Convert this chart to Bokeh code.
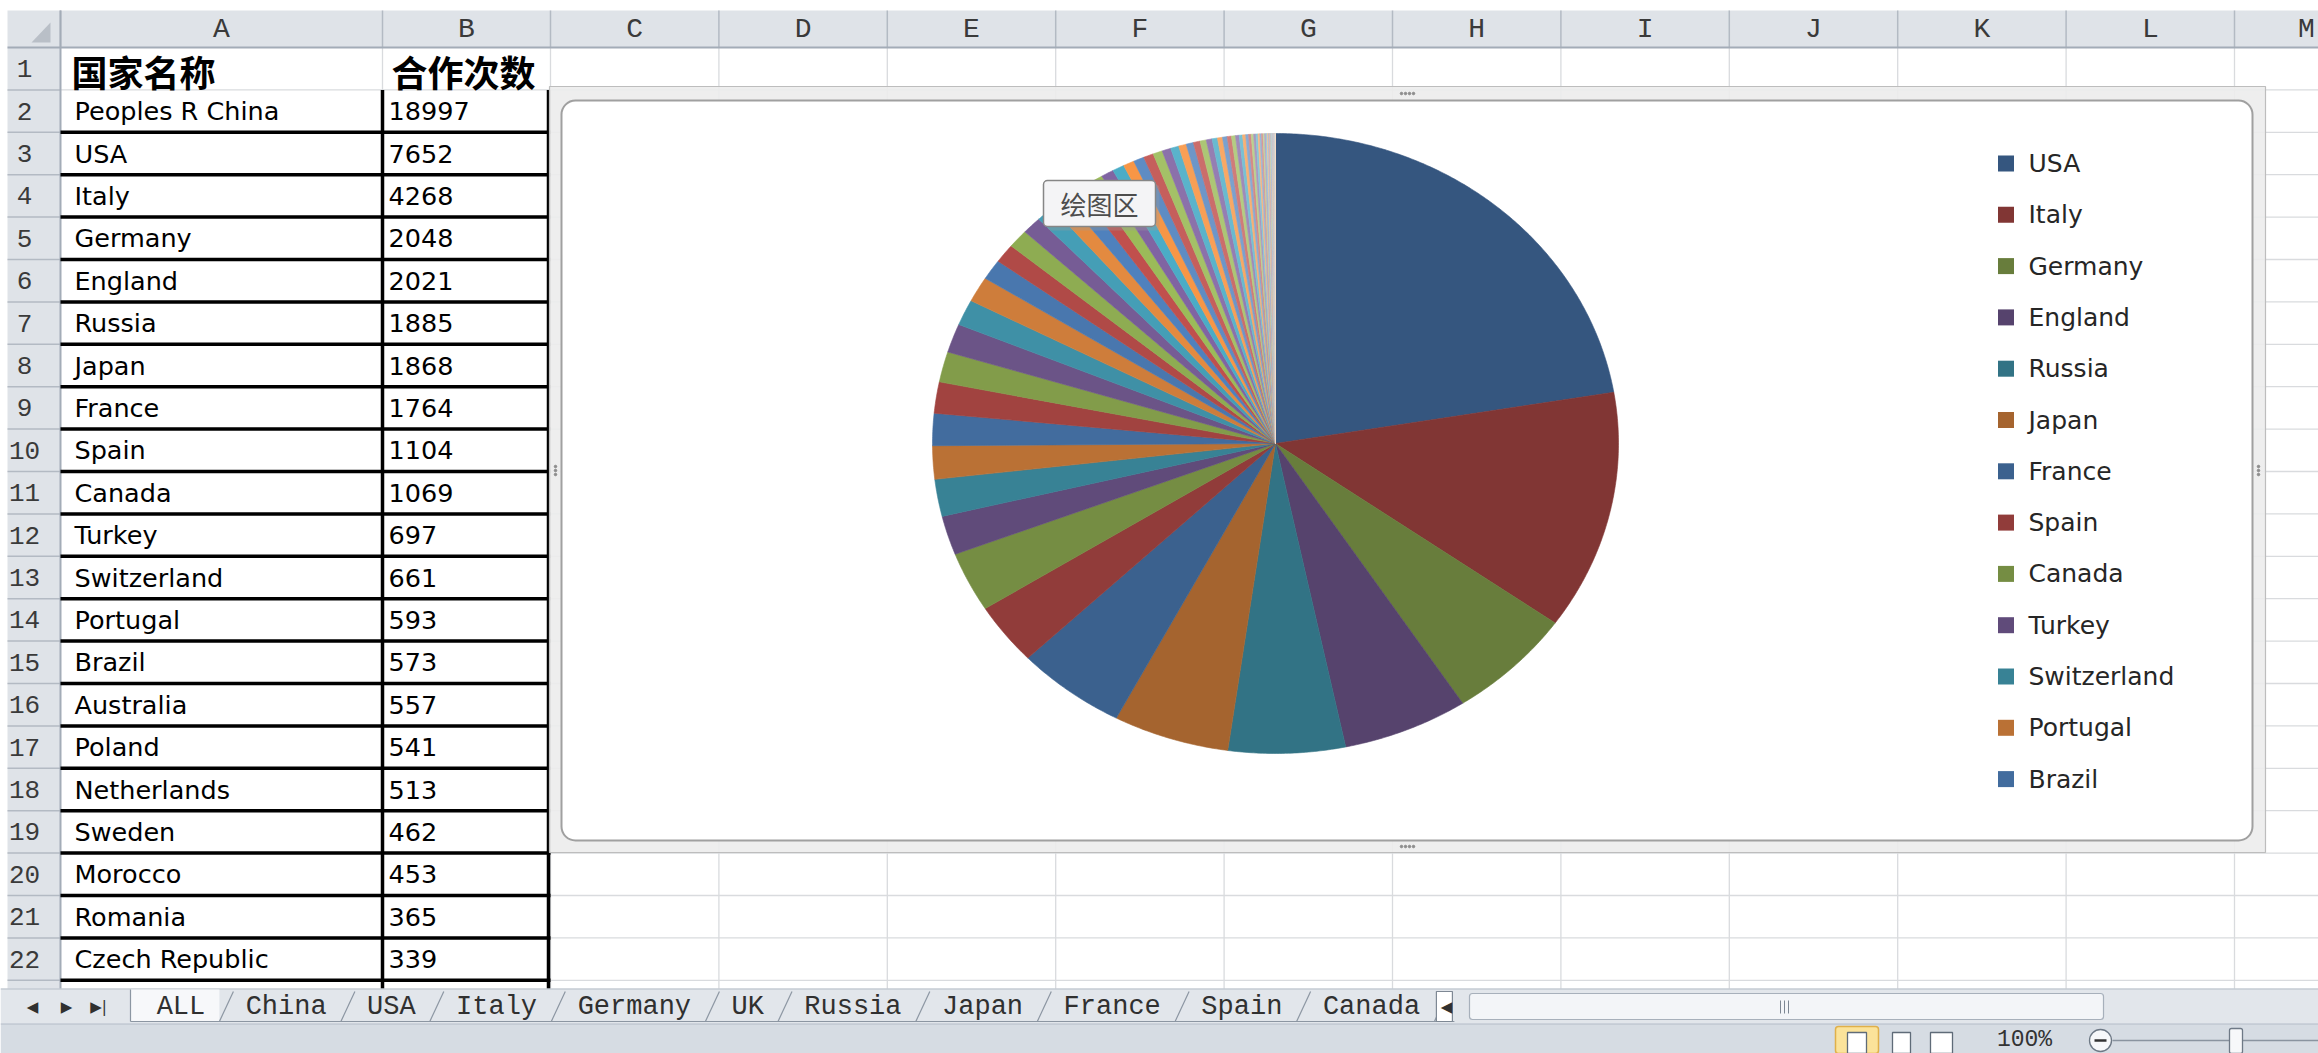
import math
from bokeh.plotting import figure
from bokeh.models import Range1d
from bokeh.core.properties import value
from bokeh.embed import file_html
from bokeh.resources import INLINE

# ---------------- data ----------------
header_labels = ["国家名称", "合作次数"]
table_countries = ["Peoples R China", "USA", "Italy", "Germany", "England", "Russia", "Japan",
                   "France", "Spain", "Canada", "Turkey", "Switzerland", "Portugal", "Brazil",
                   "Australia", "Poland", "Netherlands", "Sweden", "Morocco", "Romania",
                   "Czech Republic"]
table_counts = [18997, 7652, 4268, 2048, 2021, 1885, 1868, 1764, 1104, 1069, 697, 661, 593,
                573, 557, 541, 513, 462, 453, 365, 339]
# countries below row 22 (not visible in the sheet)
tail_countries = ["India", "South Korea", "Iran", "Belgium", "Greece", "Austria", "Denmark",
                  "Saudi Arabia", "Singapore", "Finland", "Norway", "Taiwan", "Egypt", "Mexico",
                  "Ireland", "Israel", "Hungary", "Argentina", "Scotland", "Pakistan",
                  "South Africa", "Chile", "Malaysia", "Thailand", "Tunisia", "Slovenia",
                  "Serbia", "New Zealand", "Croatia", "Slovakia", "Algeria", "Vietnam",
                  "Colombia", "Ukraine", "Bulgaria", "Lithuania", "Wales", "Estonia", "Cyprus",
                  "Nigeria", "Bangladesh", "Qatar", "Jordan", "Lebanon", "Kenya", "Iraq",
                  "Latvia", "Luxembourg", "Cuba", "Venezuela", "U Arab Emirates", "Kazakhstan",
                  "Peru", "Ethiopia", "Belarus", "Uruguay", "Sri Lanka", "Oman"]
tail_counts = [330, 312, 290, 268, 250, 232, 218, 204, 190, 178,
               172, 162, 152, 142, 133, 124, 117, 109, 101, 94,
               87, 81, 75, 69, 64, 59, 54, 50, 46, 42,
               39, 36, 33, 30, 27, 25, 23, 21, 19, 17,
               15, 13, 12, 11, 10, 9, 8, 7, 6, 5,
               5, 4, 3, 3, 2, 2, 1, 1]
column_letters = ["A", "B", "C", "D", "E", "F", "G", "H", "I", "J", "K", "L", "M"]
sheet_tabs = ["ALL", "China", "USA", "Italy", "Germany", "UK", "Russia", "Japan", "France",
              "Spain", "Canada"]
legend_shown = 13
tooltip_label = "绘图区"
zoom_label = "100%"

pie_countries = table_countries[1:] + tail_countries
pie_counts = table_counts[1:] + tail_counts

# ---------------- figure (page pixel space) ----------------
W, H = 2318, 1053
p = figure(width=W, height=H, x_range=Range1d(0, W), y_range=Range1d(H, 0),
           output_backend="svg", toolbar_location=None, min_border=0,
           x_axis_location=None, y_axis_location=None)
p.grid.visible = False
p.outline_line_color = None
p.background_fill_color = "white"
p.border_fill_color = "white"

MONO = value("Liberation Mono")
SANS = value("DejaVu Sans")
CJK = value("Noto Sans CJK SC")

ROW_H = 42.4
HDR_TOP, HDR_BOT = 10, 47
RH_LEFT, RH_RIGHT = 7, 60
RIGHT_EDGE = W
GRID_BOTTOM = 990
col_edges = [60, 382, 550] + [550 + 168.4 * k for k in range(1, 12)]
n_rows = 22
row_edges = [HDR_BOT + ROW_H * k for k in range(n_rows + 1)]

# cell grid lines
p.multi_line(xs=[[x, x] for x in col_edges[1:]], ys=[[HDR_BOT, GRID_BOTTOM]] * (len(col_edges) - 1),
             line_color="#D9DBDE", line_width=1.3)
p.multi_line(xs=[[RH_RIGHT, RIGHT_EDGE]] * n_rows, ys=[[y, y] for y in row_edges[1:]],
             line_color="#D9DBDE", line_width=1.3)

# headers
p.quad(left=[RH_LEFT], right=[RIGHT_EDGE], top=[HDR_TOP], bottom=[HDR_BOT],
       fill_color="#DFE3E8", line_color=None)
p.quad(left=[RH_LEFT], right=[RH_RIGHT], top=[HDR_BOT], bottom=[GRID_BOTTOM],
       fill_color="#DFE3E8", line_color=None)
p.multi_line(xs=[[x, x] for x in col_edges], ys=[[HDR_TOP, HDR_BOT]] * len(col_edges),
             line_color="#B3BAC3", line_width=1.5)
p.multi_line(xs=[[RH_LEFT, RH_RIGHT]] * n_rows, ys=[[y, y] for y in row_edges[1:]],
             line_color="#B3BAC3", line_width=1.5)
p.line(x=[RH_LEFT, RIGHT_EDGE], y=[HDR_BOT, HDR_BOT], line_color="#A3ACB7", line_width=2)
p.line(x=[RH_RIGHT, RH_RIGHT], y=[HDR_TOP, GRID_BOTTOM], line_color="#A3ACB7", line_width=2)
p.patch(x=[31, 50, 50], y=[42, 42, 22], fill_color="#B9BFC7", line_color=None)

col_centers = [(col_edges[i] + col_edges[i + 1]) / 2 for i in range(len(column_letters))]
col_centers[-1] = min(col_centers[-1], RIGHT_EDGE - 12)
p.text(x=col_centers, y=[HDR_TOP + 19] * len(column_letters), text=column_letters,
       text_font=MONO, text_font_size=value("28px"), text_color="#3A3A3A",
       text_align="center", text_baseline="middle")
row_centers = [HDR_BOT + ROW_H * (r - 0.5) for r in range(1, n_rows + 1)]
p.text(x=[24] * n_rows, y=row_centers, text=[str(r) for r in range(1, n_rows + 1)],
       text_font=MONO, text_font_size=value("26px"), text_color="#3A3A3A",
       text_align="center", text_baseline="middle")

# table contents
p.text(x=[71, 391], y=[row_centers[0] + 2] * 2, text=header_labels, text_font=CJK,
       text_font_style="bold", text_font_size=value("36px"), text_color="#000000",
       text_align="left", text_baseline="middle")
nt = len(table_countries)
p.text(x=[74] * nt, y=row_centers[1:1 + nt], text=table_countries, text_font=SANS,
       text_font_size=value("25.5px"), text_color="#000000", text_align="left", text_baseline="middle")
p.text(x=[388] * nt, y=row_centers[1:1 + nt], text=[str(v) for v in table_counts], text_font=SANS,
       text_font_size=value("25.5px"), text_color="#000000", text_align="left", text_baseline="middle")
p.multi_line(xs=[[60, 550]] * nt, ys=[[row_edges[r + 2], row_edges[r + 2]] for r in range(nt)],
             line_color="#000000", line_width=3.5)
p.multi_line(xs=[[382, 382], [548, 548]], ys=[[row_edges[1], GRID_BOTTOM]] * 2,
             line_color="#000000", line_width=3.5)

# ---------------- chart object ----------------
p.quad(left=[549], right=[2265], top=[86], bottom=[852], fill_color="#ECECEC", fill_alpha=0.9,
       line_color="#BDBDBD", line_width=1.2)
p.quad(left=[561], right=[2252], top=[100], bottom=[840], fill_color="white",
       line_color="#A0A0A0", line_width=2, border_radius=14)
handle_x = [1401, 1405, 1409, 1413, 1401, 1405, 1409, 1413]
handle_y = [93, 93, 93, 93, 846, 846, 846, 846]
p.scatter(x=handle_x, y=handle_y, size=2.5, color="#8C8C8C")
p.scatter(x=[555, 555, 555, 2258, 2258, 2258], y=[466, 470, 474, 466, 470, 474], size=2.5, color="#8C8C8C")

# pie through its own unit ranges (ellipse as in the screenshot)
CX, CY, RX, RY = 1275, 443, 343, 310
p.extra_x_ranges = {"pie_x": Range1d((0 - CX) / RX, (W - CX) / RX)}
p.extra_y_ranges = {"pie_y": Range1d(-(H - CY) / RY, (CY - 0) / RY)}

ACCENTS = [(79, 129, 189), (192, 80, 77), (155, 187, 89), (128, 100, 162), (75, 172, 198), (247, 150, 70)]


def slice_color(i):
    k = i // 6
    u = -0.33 + 0.083 * k
    r, g, b = ACCENTS[i % 6]
    if u < 0:
        c = (r * (1 + u), g * (1 + u), b * (1 + u))
    else:
        c = (r + (255 - r) * u, g + (255 - g) * u, b + (255 - b) * u)
    return "#%02x%02x%02x" % tuple(int(round(min(255, v))) for v in c)


total = float(sum(pie_counts))
xs, ys, colors = [], [], []
acc = 0.0
for i, v in enumerate(pie_counts):
    f0, f1 = acc / total, (acc + v) / total
    acc += v
    nseg = max(2, int((f1 - f0) * 720) + 2)
    px, py = [0.0], [0.0]
    for s in range(nseg + 1):
        th = math.pi / 2 - 2 * math.pi * (f0 + (f1 - f0) * s / nseg)
        px.append(math.cos(th))
        py.append(math.sin(th))
    xs.append(px)
    ys.append(py)
    colors.append(slice_color(i))
p.patches(xs=xs, ys=ys, fill_color=colors, line_color=colors, line_width=0.6,
          x_range_name="pie_x", y_range_name="pie_y")

# legend (first entries only, as Excel shows)
leg_y = [163 + 51.3 * i for i in range(legend_shown)]
p.rect(x=[2005.5] * legend_shown, y=leg_y, width=16, height=16, fill_color=colors[:legend_shown],
       line_color=None)
p.text(x=[2028] * legend_shown, y=leg_y, text=pie_countries[:legend_shown], text_font=SANS,
       text_font_size=value("25px"), text_color="#262626", text_align="left", text_baseline="middle")

# "绘图区" tooltip
p.quad(left=[1047], right=[1159], top=[184], bottom=[230], fill_color="#9A9A9A", fill_alpha=0.35,
       line_color=None, border_radius=4)
p.quad(left=[1043], right=[1155], top=[180], bottom=[226], fill_color="#F4F4F6",
       line_color="#868686", line_width=1.5, border_radius=4)
p.text(x=[1099], y=[203], text=[tooltip_label], text_font=CJK, text_font_size=value("26px"),
       text_color="#4D4D4D", text_align="center", text_baseline="middle")

# ---------------- sheet tabs / scrollbar ----------------
p.quad(left=[0], right=[RIGHT_EDGE], top=[988], bottom=[1023], fill_color="#E2E6EB", line_color=None)
p.line(x=[0, RIGHT_EDGE], y=[988.5, 988.5], line_color="#B5BDC7", line_width=1.2)
p.text(x=[32, 66, 98], y=[1006] * 3, text=["◀", "▶", "▶|"], text_font=SANS,
       text_font_size=value("15px"), text_color="#303030", text_align="center", text_baseline="middle")
tab_x = [130.0]
for t in sheet_tabs:
    tab_x.append(tab_x[-1] + len(t) * 16.3 + 40)
p.quad(left=[tab_x[0]], right=[tab_x[1]], top=[989], bottom=[1021], fill_color="#F7F8FA",
       line_color=None)
p.line(x=[tab_x[0], tab_x[0]], y=[989, 1021], line_color="#8C96A2", line_width=1.2)
p.multi_line(xs=[[x, x + 14] for x in tab_x[1:]], ys=[[1021, 991]] * (len(tab_x) - 1),
             line_color="#8C96A2", line_width=1.2)
p.line(x=[tab_x[0], tab_x[-1] + 20], y=[1021, 1021], line_color="#8C96A2", line_width=1.2)
p.text(x=[(tab_x[i] + tab_x[i + 1]) / 2 + 6 for i in range(len(sheet_tabs))], y=[1006] * len(sheet_tabs),
       text=sheet_tabs, text_font=MONO, text_font_size=value("27px"), text_color="#303030",
       text_align="center", text_baseline="middle")
p.quad(left=[tab_x[-1] + 2], right=[tab_x[-1] + 18], top=[991], bottom=[1021], fill_color="white",
       line_color="#7E8894", line_width=1.2)
p.text(x=[1446], y=[1006], text=["◀"], text_font=SANS, text_font_size=value("15px"),
       text_color="#303030", text_align="center", text_baseline="middle")
p.quad(left=[1469], right=[2103], top=[993], bottom=[1019], fill_color="#F3F5F8",
       line_color="#A7B0BB", line_width=1.2, border_radius=3)
p.multi_line(xs=[[1780, 1780], [1784, 1784], [1788, 1788]], ys=[[1000, 1013]] * 3,
             line_color="#7D8793", line_width=1)

# status bar
p.quad(left=[0], right=[RIGHT_EDGE], top=[1023], bottom=[H], fill_color="#D6DCE3", line_color=None)
p.line(x=[0, RIGHT_EDGE], y=[1023.5, 1023.5], line_color="#B3BCC7", line_width=1.2)
p.quad(left=[1835], right=[1878], top=[1026], bottom=[H], fill_color="#FBE39A",
       line_color="#E0B04A", line_width=1.5, border_radius=3)
p.quad(left=[1847, 1892, 1930], right=[1866, 1910, 1952], top=[1032] * 3, bottom=[H] * 3,
       fill_color="white", line_color="#5F6B78", line_width=1.3)
p.text(x=[2024], y=[1039], text=[zoom_label], text_font=MONO, text_font_size=value("23px"),
       text_color="#333333", text_align="center", text_baseline="middle")
p.line(x=[2112, RIGHT_EDGE], y=[1040, 1040], line_color="#8A94A0", line_width=1.5)
p.scatter(x=[2100], y=[1040], size=22, fill_color="#F7F8FA", line_color="#6E7986", line_width=1.3)
p.line(x=[2094, 2106], y=[1040, 1040], line_color="#333333", line_width=2.5)
p.quad(left=[2229], right=[2242], top=[1028], bottom=[H], fill_color="#F7F8FA",
       line_color="#6E7986", line_width=1.3, border_radius=2)

open("out.html", "w").write(file_html(p, INLINE))
